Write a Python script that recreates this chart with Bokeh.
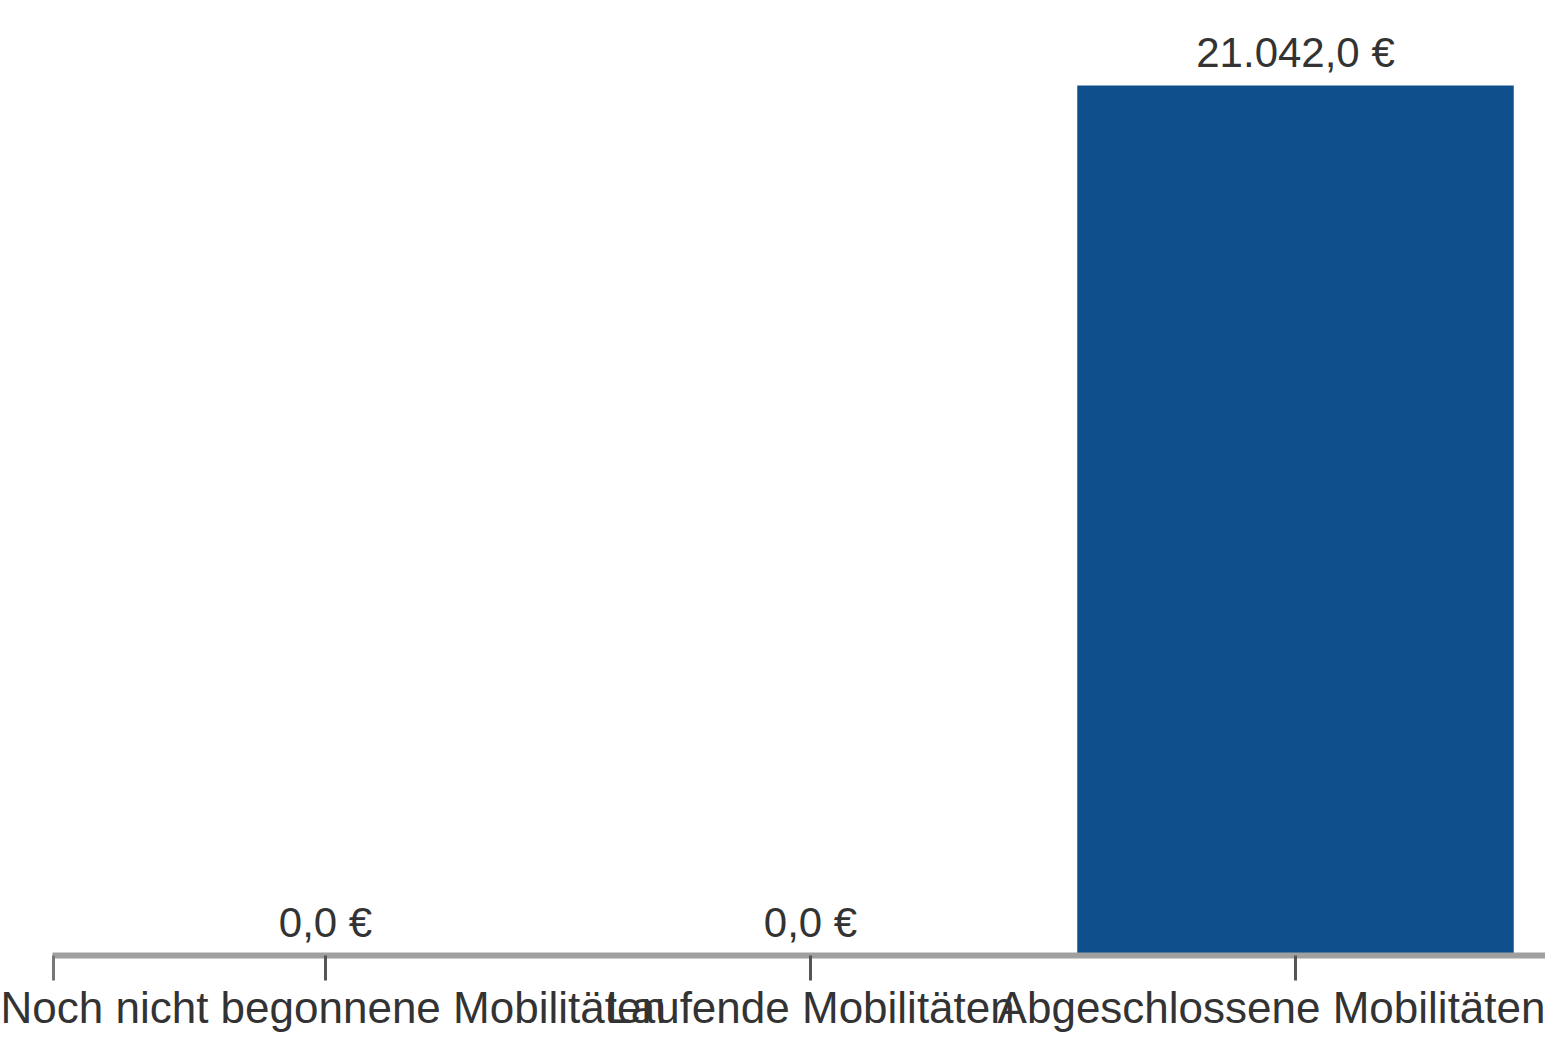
from bokeh.plotting import figure
from bokeh.models import Range1d, FixedTicker, ColumnDataSource
from bokeh.embed import file_html
from bokeh.resources import INLINE
from bokeh.core.properties import value

categories = ["Noch nicht begonnene Mobilitäten", "Laufende Mobilitäten", "Abgeschlossene Mobilitäten"]
amounts = [0.0, 0.0, 21042.0]
labels = ["0,0 €", "0,0 €", "21.042,0 €"]

idx = list(range(len(categories)))
src = ColumnDataSource(dict(x=idx, top=amounts, label=labels))

W, H = 1545, 1035
left_border, bottom_border, top_border = 52, 80, 8
frame_w = W - left_border
frame_h = H - bottom_border - top_border
unit = 485.0
x_start = -273.0 / unit
x_end = x_start + frame_w / unit
y_end = max(amounts) * frame_h / (frame_h - 77)

p = figure(width=W, height=H, output_backend="svg", toolbar_location=None,
           x_range=Range1d(x_start, x_end), y_range=Range1d(0, y_end),
           min_border_left=left_border, min_border_right=0, min_border_top=top_border,
           min_border_bottom=bottom_border, y_axis_location=None)
p.outline_line_color = None
p.xgrid.visible = False
p.ygrid.visible = False
p.background_fill_color = "white"

p.vbar(x="x", top="top", width=0.9, bottom=0, source=src, fill_color="#0f4f8c", line_color=None)
p.text(x="x", y="top", text="label", source=src, text_align="center", text_baseline="alphabetic",
       y_offset=-33, text_font=value("Liberation Sans"), text_font_size="42px", text_color="#333333")

ax = p.xaxis[0]
ax.ticker = FixedTicker(ticks=idx, minor_ticks=[x_start + 0.003])
ax.major_label_overrides = {i: c for i, c in zip(idx, categories)}
ax.axis_line_color = "#a0a0a0"
ax.axis_line_width = 6
ax.major_tick_line_color = "#555555"
ax.major_tick_line_width = 3
ax.major_tick_out = 25
ax.major_tick_in = 0
ax.minor_tick_line_color = "#777777"
ax.minor_tick_line_width = 3
ax.minor_tick_out = 25
ax.minor_tick_in = 0
ax.major_label_standoff = 2
ax.major_label_text_font = "Liberation Sans"
ax.major_label_text_font_size = "44px"
ax.major_label_text_color = "#333333"

open("out.html", "w").write(file_html(p, INLINE))
